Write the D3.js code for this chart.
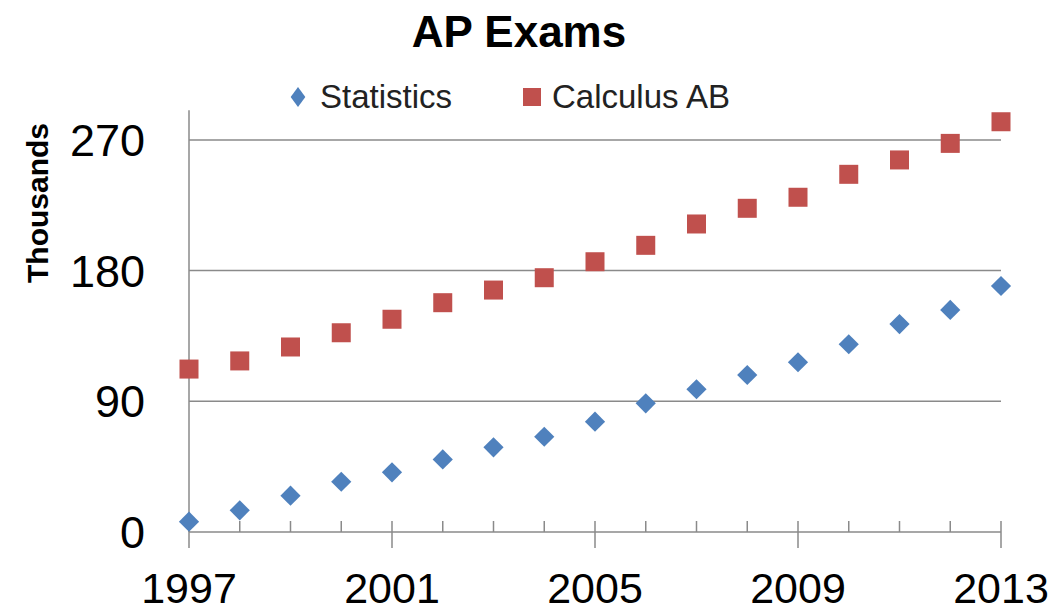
<head>
    <script src="https://d3js.org/d3.v7.min.js"></script>
    <style>
        body { margin: 0; background: #fff; }
        text { font-family: "Liberation Sans", Arial, sans-serif; fill: #000; }
    </style>
</head>

<body>
    <div id="chart"></div>
</body>

<script>
    // data (thousands of exams)
    const years = [1997, 1998, 1999, 2000, 2001, 2002, 2003, 2004, 2005,
                   2006, 2007, 2008, 2009, 2010, 2011, 2012, 2013];
    const statistics = [7.1, 14.9, 25.0, 34.6, 41.1, 50.0, 58.3, 65.6, 76.0,
                        88.6, 98.3, 108.1, 116.9, 129.3, 143.2, 152.9, 169.4];
    const calculusAB = [112.2, 117.8, 127.4, 137.2, 146.5, 157.9, 166.6, 175.1, 186.1,
                        197.4, 212.1, 222.9, 230.5, 246.3, 256.2, 267.6, 282.5];
    const yTicks = [0, 90, 180, 270];
    const xTicks = [1997, 2001, 2005, 2009, 2013];
    const seriesNames = ["Statistics", "Calculus AB"];
    const colors = ["#4f81bd", "#c0504d"];

    const width = 1055, height = 614;
    const svg = d3.select("#chart").append("svg")
        .attr("width", width)
        .attr("height", height);

    const x = d3.scaleLinear().domain([1997, 2013]).range([189, 1001]);
    const y = d3.scaleLinear().domain([0, 90]).range([532, 401.3]);
    const yTop = 290.5; // axis line runs a bit past the last gridline

    // gridlines
    svg.append("g").selectAll("line")
        .data(yTicks.filter(d => d > 0))
        .enter().append("line")
        .attr("x1", x(1997)).attr("x2", x(2013))
        .attr("y1", d => y(d)).attr("y2", d => y(d))
        .style("stroke", "#8a8a8a")
        .style("stroke-width", 1.5);

    // y axis line
    svg.append("line")
        .attr("x1", x(1997)).attr("x2", x(1997))
        .attr("y1", y(yTop)).attr("y2", y(0))
        .style("stroke", "#8a8a8a").style("stroke-width", 1.5);

    // x axis line + ticks
    svg.append("line")
        .attr("x1", x(1997)).attr("x2", x(2013))
        .attr("y1", y(0)).attr("y2", y(0))
        .style("stroke", "#8a8a8a").style("stroke-width", 1.5);

    svg.append("g").selectAll("line")
        .data(years)
        .enter().append("line")
        .attr("x1", d => x(d)).attr("x2", d => x(d))
        .attr("y1", y(0) - 11)
        .attr("y2", d => xTicks.includes(d) ? y(0) + 16 : y(0))
        .style("stroke", "#8a8a8a").style("stroke-width", 1.5);

    // tick labels
    svg.append("g").selectAll("text")
        .data(yTicks)
        .enter().append("text")
        .attr("x", 145)
        .attr("y", d => y(d) + 16)
        .attr("text-anchor", "end")
        .style("font-size", "45px")
        .text(d => d);

    svg.append("g").selectAll("text")
        .data(xTicks)
        .enter().append("text")
        .attr("x", d => x(d))
        .attr("y", 603)
        .attr("text-anchor", "middle")
        .style("font-size", "43px")
        .text(d => d);

    // axis title
    svg.append("text")
        .attr("transform", "translate(48,203) rotate(-90)")
        .attr("text-anchor", "middle")
        .style("font-size", "30px")
        .style("font-weight", "bold")
        .text("Thousands");

    // chart title
    svg.append("text")
        .attr("x", 519)
        .attr("y", 47)
        .attr("text-anchor", "middle")
        .style("font-size", "44px")
        .style("font-weight", "bold")
        .text("AP Exams");

    // markers
    const diamond = d3.symbol().type(d3.symbolDiamond2).size(260);
    svg.append("g").selectAll("path")
        .data(years.map((d, i) => [d, statistics[i]]))
        .enter().append("path")
        .attr("d", diamond)
        .attr("transform", d => "translate(" + x(d[0]) + "," + y(d[1]) + ")")
        .style("fill", colors[0]);

    svg.append("g").selectAll("rect")
        .data(years.map((d, i) => [d, calculusAB[i]]))
        .enter().append("rect")
        .attr("x", d => x(d[0]) - 9.5)
        .attr("y", d => y(d[1]) - 9.5)
        .attr("width", 19).attr("height", 19)
        .style("fill", colors[1]);

    // legend
    const legend = svg.append("g");
    legend.append("path")
        .attr("d", d3.symbol().type(d3.symbolDiamond2).size(190))
        .attr("transform", "translate(298,97) scale(0.85,1.15)")
        .style("fill", colors[0]);
    legend.append("text")
        .attr("x", 320).attr("y", 108)
        .style("font-size", "33px")
        .style("fill", "#222")
        .text(seriesNames[0]);
    legend.append("rect")
        .attr("x", 523).attr("y", 88)
        .attr("width", 18).attr("height", 18)
        .style("fill", colors[1]);
    legend.append("text")
        .attr("x", 552).attr("y", 108)
        .style("font-size", "33px")
        .style("fill", "#222")
        .text(seriesNames[1]);
</script>
